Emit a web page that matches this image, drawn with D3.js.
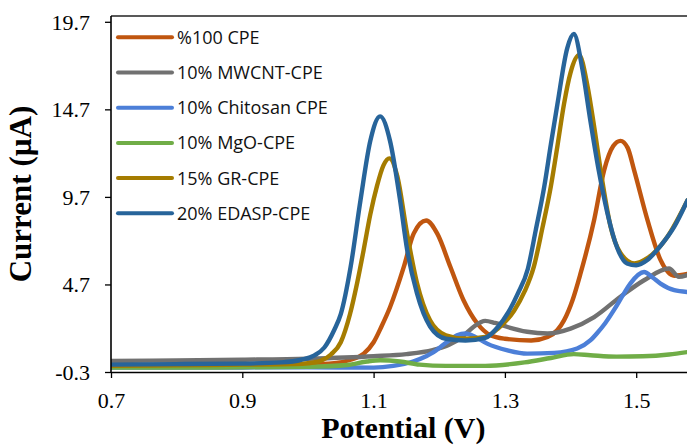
<!DOCTYPE html>
<html>
<head>
<meta charset="utf-8">
<script src="https://cdn.jsdelivr.net/npm/d3@7"></script>
<style>
  html, body { margin: 0; padding: 0; background: #fff; }
  svg { display: block; }
</style>
</head>
<body>
<svg id="chart" width="687" height="445"></svg>
<script>
// ---- data ----
const seriesNames = ["%100 CPE", "10% MWCNT-CPE", "10% Chitosan CPE", "10% MgO-CPE", "15% GR-CPE", "20% EDASP-CPE"];
const seriesColors = ["#C0560F", "#717171", "#4C7FD8", "#70AD47", "#A57C00", "#27649A"];

const xTicks = [0.7, 0.9, 1.1, 1.3, 1.5];
const yTicks = [-0.3, 4.7, 9.7, 14.7, 19.7];

// [potential (V), current (µA)]
const cpe100 = [[0.70,0.03],[0.80,0.05],[0.90,0.08],[1.00,0.12],[1.04,0.2],[1.065,0.4],[1.085,0.75],[1.10,1.4],[1.112,2.3],[1.125,3.4],[1.146,5.7],[1.161,7.6],[1.18,8.35],[1.197,7.6],[1.217,5.7],[1.237,3.8],[1.258,2.47],[1.278,1.8],[1.30,1.6],[1.34,1.5],[1.365,1.7],[1.38,2.1],[1.39,2.65],[1.403,3.8],[1.415,5.3],[1.436,8.4],[1.451,11.2],[1.465,12.6],[1.476,12.9],[1.487,12.5],[1.497,11.2],[1.517,8.4],[1.537,6.1],[1.558,5.2],[1.578,5.3]];
const mwcnt = [[0.70,0.33],[0.80,0.36],[0.90,0.4],[1.00,0.46],[1.10,0.6],[1.15,0.72],[1.19,0.95],[1.215,1.25],[1.235,1.7],[1.252,2.27],[1.27,2.62],[1.285,2.5],[1.304,2.27],[1.334,2.0],[1.365,1.9],[1.40,2.18],[1.436,2.84],[1.476,4.0],[1.512,4.94],[1.55,5.61],[1.565,5.13],[1.578,5.23]];
const chitosan = [[0.70,-0.05],[0.80,-0.05],[0.90,-0.04],[1.00,-0.03],[1.10,-0.05],[1.13,0.05],[1.16,0.3],[1.18,0.6],[1.19,0.8],[1.202,1.13],[1.215,1.5],[1.227,1.8],[1.24,1.9],[1.255,1.7],[1.273,1.32],[1.304,0.94],[1.334,0.75],[1.375,0.79],[1.41,1.04],[1.43,1.5],[1.44,1.9],[1.453,2.5],[1.466,3.23],[1.48,4.1],[1.491,4.75],[1.512,5.41],[1.525,5.1],[1.537,4.75],[1.558,4.37],[1.578,4.27]];
const mgo = [[0.70,-0.05],[0.80,-0.05],[0.90,-0.03],[1.00,0.0],[1.06,0.1],[1.09,0.3],[1.11,0.37],[1.14,0.3],[1.17,0.12],[1.21,0.05],[1.27,0.05],[1.33,0.25],[1.37,0.5],[1.405,0.72],[1.43,0.66],[1.47,0.58],[1.51,0.6],[1.55,0.7],[1.578,0.84]];
const gr = [[0.70,0.05],[0.80,0.08],[0.90,0.12],[0.98,0.15],[1.00,0.2],[1.02,0.35],[1.035,0.7],[1.05,1.4],[1.064,3.0],[1.075,4.8],[1.085,6.7],[1.095,8.7],[1.105,10.3],[1.115,11.5],[1.124,11.9],[1.136,10.9],[1.151,7.6],[1.166,4.8],[1.186,2.65],[1.21,1.8],[1.24,1.6],[1.27,1.7],[1.29,2.2],[1.314,3.2],[1.33,4.3],[1.344,5.7],[1.357,7.9],[1.37,10.3],[1.38,12.6],[1.39,15.0],[1.40,16.8],[1.413,17.8],[1.426,16.0],[1.436,13.7],[1.448,10.7],[1.461,8.0],[1.476,6.5],[1.497,5.9],[1.517,6.2],[1.547,7.4],[1.578,9.5]];
const edasp = [[0.70,0.12],[0.80,0.15],[0.90,0.18],[0.96,0.25],[0.99,0.4],[1.01,0.65],[1.025,1.1],[1.04,2.1],[1.05,3.0],[1.065,5.7],[1.08,9.5],[1.095,12.9],[1.11,14.3],[1.125,12.9],[1.14,9.6],[1.151,6.7],[1.166,4.2],[1.186,2.3],[1.21,1.6],[1.24,1.5],[1.27,1.65],[1.29,2.3],[1.305,3.1],[1.32,4.2],[1.335,5.6],[1.347,7.8],[1.36,10.3],[1.37,12.7],[1.38,15.0],[1.395,18.2],[1.405,19.0],[1.418,17.0],[1.43,14.1],[1.443,11.2],[1.456,8.8],[1.471,6.8],[1.486,5.9],[1.50,5.8],[1.517,6.1],[1.537,6.9],[1.558,8.0],[1.578,9.5]];

const seriesValues = [cpe100, mwcnt, chitosan, mgo, gr, edasp];

// ---- layout ----
const plotL = 111, plotR = 687, plotT = 16, plotB = 372;
const xMin = 0.7, xMax = 0.7 + (plotR - plotL) / 656.5;
const yMin = -0.3, yMax = 19.7 + (21.8 - plotT) / 17.51;

const svg = d3.select("#chart");
const x = d3.scaleLinear().domain([xMin, xMax]).range([plotL, plotR]);
const y = d3.scaleLinear().domain([yMin, yMax]).range([plotB, plotT]);
const fmt = v => d3.format(".1f")(v).replace("\u2212", "-");

svg.append("defs").append("clipPath").attr("id", "plotclip")
  .append("rect").attr("x", plotL).attr("y", plotT - 3).attr("width", plotR - plotL).attr("height", plotB - plotT + 6);

// top frame line
svg.append("line").attr("x1", plotL).attr("x2", plotR).attr("y1", plotT).attr("y2", plotT)
  .attr("stroke", "#222").attr("stroke-width", 1.6);

// curves
const lineGen = d3.line().x(d => x(d[0])).y(d => y(d[1])).curve(d3.curveMonotoneX);
const g = svg.append("g").attr("clip-path", "url(#plotclip)");
seriesValues.forEach((vals, i) => {
  g.append("path").attr("d", lineGen(vals)).attr("fill", "none")
    .attr("stroke", seriesColors[i]).attr("stroke-width", 4.4)
    .attr("stroke-linejoin", "round").attr("stroke-linecap", "round");
});

// axes
const xAxis = svg.append("g").attr("transform", `translate(0,${plotB})`)
  .call(d3.axisBottom(x).tickValues(xTicks).tickFormat(fmt).tickSize(6).tickSizeOuter(0));
xAxis.select(".domain").attr("stroke", "#000").attr("stroke-width", 1.6);
xAxis.selectAll(".tick line").attr("stroke", "#000").attr("stroke-width", 1.3);
xAxis.selectAll(".tick text").attr("y", 36).attr("dy", 0)
  .attr("font-family", "'Liberation Serif', 'Times New Roman', serif").attr("font-size", 22).attr("fill", "#000");

const yAxis = svg.append("g").attr("transform", `translate(${plotL},0)`)
  .call(d3.axisLeft(y).tickValues(yTicks).tickFormat(fmt).tickSize(6).tickSizeOuter(0));
yAxis.select(".domain").attr("stroke", "#000").attr("stroke-width", 1.6)
  .attr("d", `M0,${plotT}V${plotB}`);
yAxis.selectAll(".tick line").attr("stroke", "#000").attr("stroke-width", 1.3);
yAxis.selectAll(".tick text").attr("x", -21).attr("dy", "0.33em")
  .attr("font-family", "'Liberation Serif', 'Times New Roman', serif").attr("font-size", 22).attr("fill", "#000");

// axis titles
svg.append("text").attr("x", (316.7 + 490) / 2).attr("y", 438).attr("text-anchor", "middle")
  .attr("font-family", "'Liberation Serif', 'Times New Roman', serif").attr("font-weight", "bold")
  .attr("font-size", 30).attr("fill", "#000").text("Potential (V)");
svg.append("text").attr("transform", `translate(31,194) rotate(-90)`).attr("text-anchor", "middle")
  .attr("font-family", "'Liberation Serif', 'Times New Roman', serif").attr("font-weight", "bold")
  .attr("font-size", 31).attr("fill", "#000").text("Current (µA)");

// legend
const legend = svg.append("g");
seriesNames.forEach((name, i) => {
  const ly = 37.3 + i * 35.2;
  legend.append("line").attr("x1", 118).attr("x2", 172).attr("y1", ly).attr("y2", ly)
    .attr("stroke", seriesColors[i]).attr("stroke-width", 4).attr("stroke-linecap", "round");
  legend.append("text").attr("x", 177).attr("y", ly).attr("dy", "0.36em")
    .attr("font-family", "'Open Sans', 'Noto Sans', sans-serif").attr("font-size", 18)
    .attr("fill", "#111").text(name);
});
</script>
</body>
</html>
